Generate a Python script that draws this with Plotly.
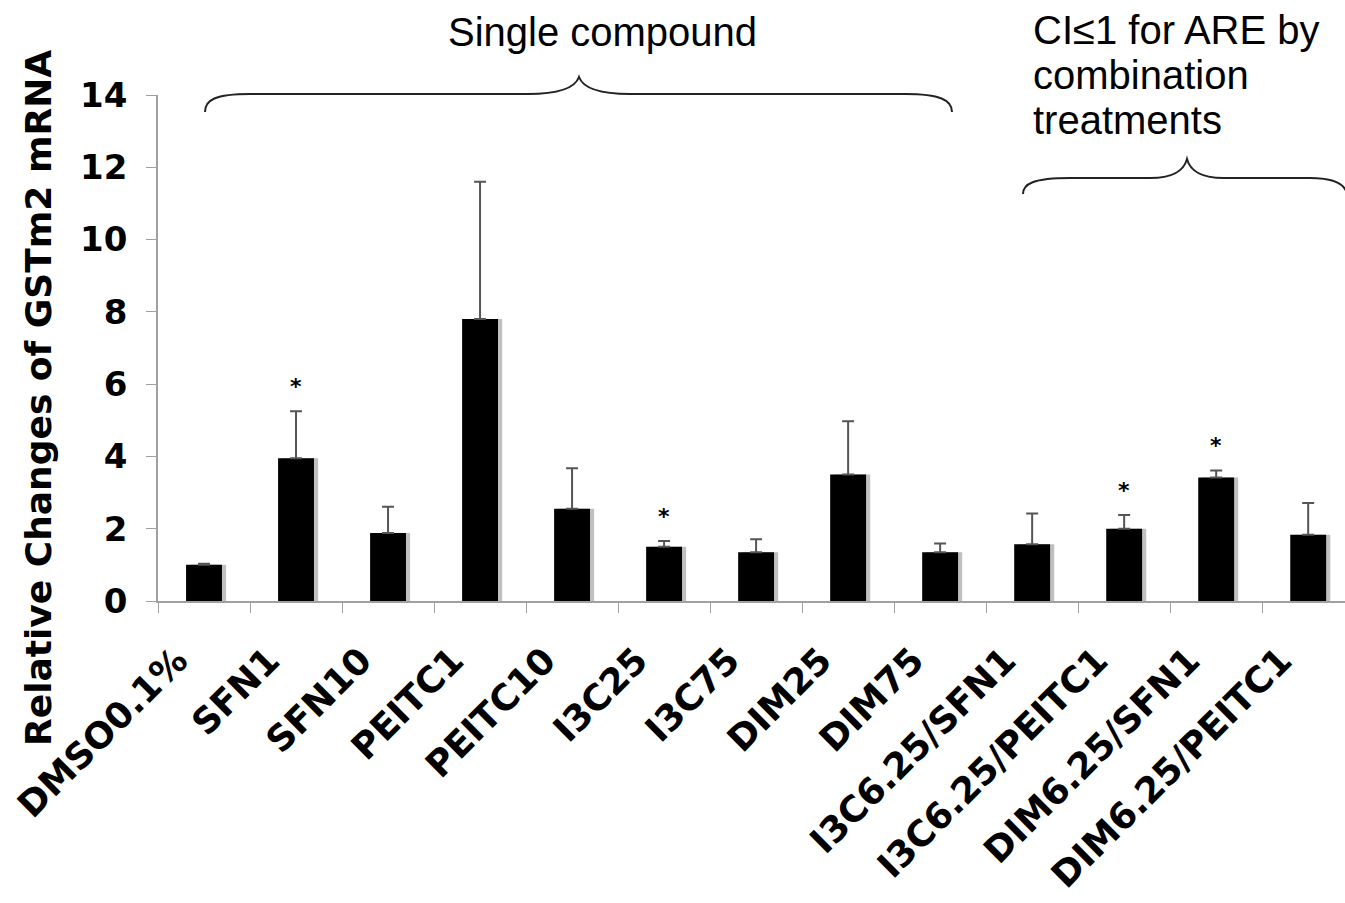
import plotly.graph_objects as go

categories = ["DMSO0.1%", "SFN1", "SFN10", "PEITC1", "PEITC10", "I3C25", "I3C75",
              "DIM25", "DIM75", "I3C6.25/SFN1", "I3C6.25/PEITC1", "DIM6.25/SFN1",
              "DIM6.25/PEITC1"]
values = [1.0, 3.95, 1.88, 7.8, 2.55, 1.5, 1.35, 3.5, 1.35, 1.57, 2.0, 3.42, 1.83]
err_up = [0.03, 1.3, 0.73, 3.8, 1.12, 0.16, 0.36, 1.47, 0.24, 0.85, 0.38, 0.19, 0.88]
stars = ["", "*", "", "", "", "*", "", "", "", "", "*", "*", ""]
y_ticks = [0, 2, 4, 6, 8, 10, 12, 14]

W, H = 1345, 903
L, R, T, B = 158, 0, 95, 302
PW, PH = W - L - R, H - T - B


def px(x):
    return (x - L) / PW


def py(y):
    return (H - B - y) / PH


BAR_W = 0.39
fig = go.Figure()
# soft shadow
fig.add_trace(go.Bar(x=categories, y=values, width=BAR_W, offset=-BAR_W / 2 + 0.045,
                     marker=dict(color="rgba(140,140,140,0.55)", line=dict(width=0)),
                     hoverinfo="skip", showlegend=False))
fig.add_trace(go.Bar(x=categories, y=values, width=BAR_W, offset=-BAR_W / 2,
                     marker=dict(color="black", line=dict(width=0)),
                     error_y=dict(type="data", array=err_up, arrayminus=[0] * len(values),
                                  symmetric=False, color="#555555", thickness=2, width=6),
                     showlegend=False))

annotations = []
for c, v, e, s in zip(categories, values, err_up, stars):
    if s:
        annotations.append(dict(x=c, y=v + e + 0.68, xref="x", yref="y", text=s,
                                showarrow=False, yanchor="middle",
                                font=dict(family="DejaVu Sans", size=22, color="black", weight="bold")))

bold = dict(family="DejaVu Sans", color="black", weight="bold")
annotations.append(dict(x=px(38), y=py(398), xref="paper", yref="paper",
                        text="Relative Changes of GSTm2 mRNA", textangle=-90,
                        showarrow=False, xanchor="center", yanchor="middle",
                        font=dict(size=36, **bold)))
top_font = dict(family="Liberation Sans", size=40, color="black")
annotations.append(dict(x=px(602), y=py(32), xref="paper", yref="paper", text="Single compound",
                        showarrow=False, xanchor="center", yanchor="middle", font=top_font))
for txt, yy in [("CI\u22641 for ARE by", 30), ("combination", 75), ("treatments", 120)]:
    annotations.append(dict(x=px(1031), y=py(yy), xref="paper", yref="paper", text=txt,
                            showarrow=False, xanchor="left", yanchor="middle", font=top_font))


def path(cmds):
    out = []
    for cmd in cmds:
        if isinstance(cmd, str):
            out.append(cmd)
        else:
            out.append(f"{px(cmd[0]):.5f},{py(cmd[1]):.5f}")
    return " ".join(out)


brace1 = path(["M", (205, 112), "C", (205, 100), (215, 94), (250, 94), "L", (528, 94),
               "C", (560, 94), (575, 88), (579, 77), "C", (583, 88), (598, 94), (630, 94),
               "L", (905, 94), "C", (940, 94), (952, 100), (952, 112)])
brace2 = path(["M", (1023, 194), "C", (1023, 184), (1033, 178), (1070, 178), "L", (1150, 178),
               "C", (1175, 178), (1184, 170), (1187, 159), "C", (1190, 170), (1199, 178), (1224, 178),
               "L", (1310, 178), "C", (1335, 178), (1345, 184), (1347, 194)])
shapes = [dict(type="path", path=p, xref="paper", yref="paper",
               line=dict(color="#222222", width=2)) for p in (brace1, brace2)]

fig.update_layout(
    width=W, height=H, margin=dict(l=L, r=R, t=T, b=B, autoexpand=False),
    paper_bgcolor="white", plot_bgcolor="white", barmode="overlay",
    annotations=annotations, shapes=shapes, showlegend=False,
    xaxis=dict(range=[-0.5, 12.4], showline=True, linecolor="#a0a0a0", linewidth=1.5,
               ticks="outside", ticklen=10, tickcolor="#a0a0a0", tickson="boundaries",
               tickangle=-45, tickfont=dict(size=36, **bold), ticklabelstandoff=22,
               ticklabelshift=-27, showgrid=False, automargin=False, zeroline=False),
    yaxis=dict(range=[0, 14], tickvals=y_ticks, showline=True, linecolor="#a0a0a0", linewidth=1.5,
               ticks="outside", ticklen=10, tickcolor="#a0a0a0", tickfont=dict(size=34, **bold),
               ticklabelstandoff=12, showgrid=False, zeroline=False, automargin=False),
)

fig.write_html("out.html")
